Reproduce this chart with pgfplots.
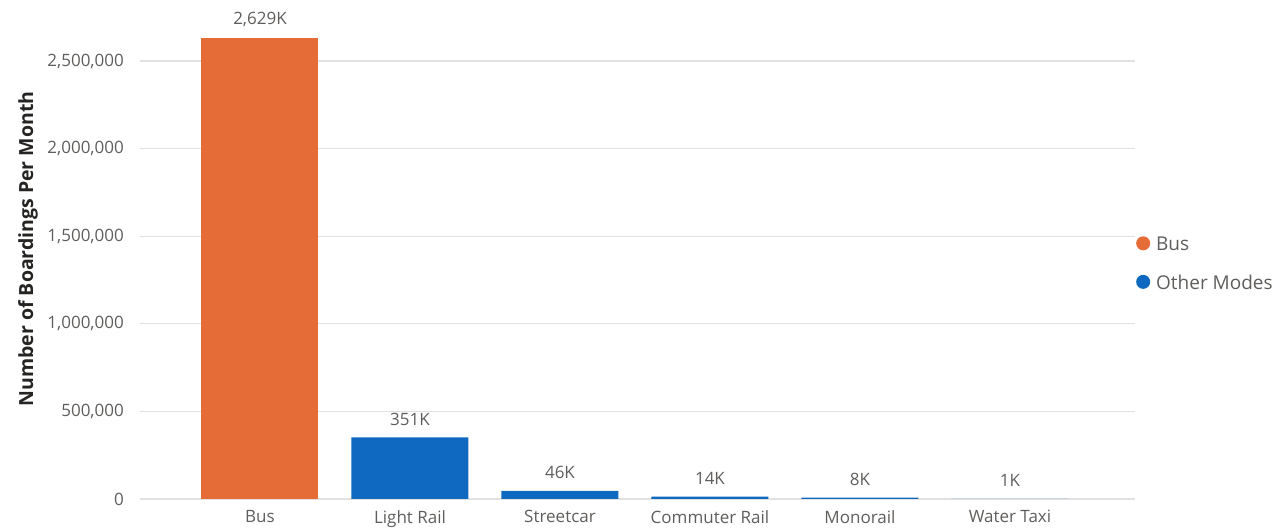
\documentclass[border=0pt]{standalone}
\usepackage{pgfplots}
\pgfplotsset{compat=1.18}
\usepackage{fontspec}
\setmainfont{Open Sans}
\definecolor{busc}{HTML}{E66C37}
\definecolor{othc}{HTML}{0F69C0}
\definecolor{tickc}{HTML}{605E5C}
\definecolor{gridc}{HTML}{E1E1E1}
\definecolor{labc}{HTML}{252423}
\begin{document}
\begin{tikzpicture}
\begin{axis}[
  name=ax,
  scale only axis,
  width=995pt, height=481.8pt,
  xmin=-0.8, xmax=5.8333,
  ymin=0, ymax=2750000,
  clip=false,
  scaled y ticks=false,
  axis line style={draw=none},
  major tick length=0pt,
  ytick={0,500000,1000000,1500000,2000000,2500000},
  yticklabels={0,{500,000},{1,000,000},{1,500,000},{2,000,000},{2,500,000}},
  xtick={0,1,2,3,4,5},
  xticklabels={Bus,Light Rail,Streetcar,Commuter Rail,Monorail,Water Taxi},
  ymajorgrids,
  grid style={draw=gridc, line width=1.3pt},
  tick label style={font=\fontsize{17}{20}\selectfont, text=tickc, inner sep=0pt},
  yticklabel style={xshift=-16pt},
  xticklabel style={yshift=-11pt},
  every axis y label/.style={at={(rel axis cs:-0.1126,0.519)}, rotate=90, anchor=center,
     font=\fontsize{19.5}{22}\selectfont\bfseries, text=labc},
  ylabel={Number of Boardings Per Month},
  legend style={at={(rel axis cs:1.001,0.5456)}, anchor=north west, draw=none, fill=none,
     inner sep=0pt, row sep=23pt, column sep=6pt, font=\fontsize{19}{22}\selectfont, text=tickc,
     nodes={inner sep=0pt}},
  legend cell align=left,
  nodes near coords,
  point meta=explicit symbolic,
  every node near coord/.append style={font=\fontsize{17}{20}\selectfont, text=tickc, inner sep=0pt, anchor=south, yshift=12pt},
]
\addplot[ybar, bar width=117pt, bar shift=0pt, fill=busc, draw=none,
  legend image code/.code={\fill[busc] (0pt,1pt) circle (7pt);}]
  coordinates {(0,2629000) [2,629K]};
\addlegendentry{Bus}
\addplot[ybar, bar width=117pt, bar shift=0pt, fill=othc, draw=none,
  legend image code/.code={\fill[othc] (0pt,1pt) circle (7pt);}]
  coordinates {(1,351000) [351K] (2,46000) [46K] (3,14000) [14K] (4,8000) [8K] (5,1000) [1K]};
\addlegendentry{Other Modes}
\coordinate (BL) at (rel axis cs:-0.1407,-0.06227);
\coordinate (TR) at (rel axis cs:1.1518,1.0357);
\end{axis}
\pgfresetboundingbox
\path (BL) rectangle (TR);
\end{tikzpicture}
\end{document}
